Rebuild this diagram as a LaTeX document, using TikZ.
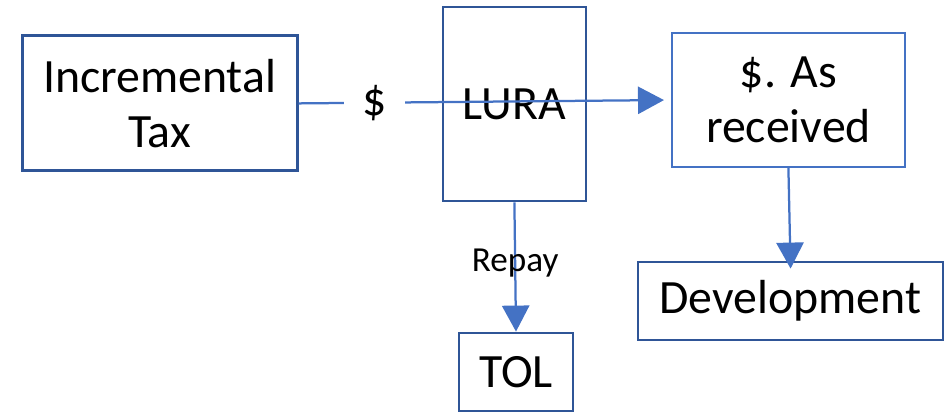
\documentclass[tikz,border=0pt]{standalone}
\usepackage{fontspec}
\setmainfont{Carlito}
\usetikzlibrary{arrows.meta}
\definecolor{boxblue}{HTML}{2F5597}
\definecolor{linkblue}{HTML}{4472C4}

\begin{document}
\begin{tikzpicture}[
    every node/.style={font=\fontsize{34}{39}\selectfont},
    box/.style={draw=boxblue, line width=2pt, align=center, inner sep=0pt},
    flow/.style={-{Triangle[length=0.65cm,width=0.68cm]}, draw=linkblue, line width=1.6pt}
  ]
  \useasboundingbox (0,0) rectangle (23.625,10.325);

  % Boxes
  \node[box, minimum width=6.875cm, minimum height=3.375cm] (tax) at (3.99,7.74) {Incremental\\Tax};
  \node[box, minimum width=3.575cm, minimum height=4.85cm] (lura) at (12.86,7.725) {LURA};
  \node[box, draw=linkblue, line width=1.3pt, minimum width=5.825cm, minimum height=3.35cm] (recv) at (19.71,7.825) {\$. As\\received};
  \node[box, minimum width=7.625cm, minimum height=1.95cm] (dev) at (19.76,2.8) {Development};
  \node[box, minimum width=2.85cm, minimum height=1.95cm] (tol) at (12.9,1.025) {TOL};

  % Money flow
  \draw[flow, shorten >=0.175cm] (tax.east) -- node[pos=0.204, fill=white, inner xsep=0.45cm] (cash) {\$} (recv.west);
  \draw[flow] (lura.south) -- node[pos=0.47, font=\fontsize{25}{30}\selectfont] (repay) {Repay} (tol.north);
  \draw[flow, shorten >=-0.2cm] (recv.south) -- (dev.north);
\end{tikzpicture}
\end{document}
